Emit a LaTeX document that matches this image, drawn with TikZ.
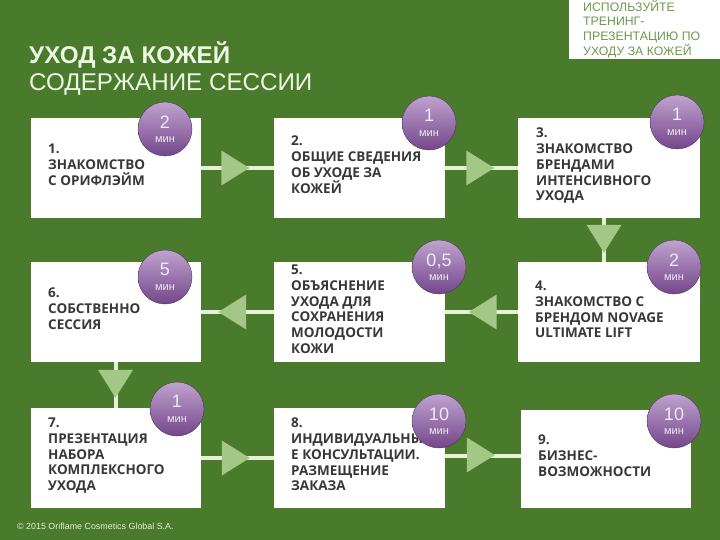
\documentclass[tikz,border=0pt]{standalone}
\usepackage{fontspec}
\setmainfont{Liberation Sans}
\newfontfamily\boxfont{Open Sans}
\usetikzlibrary{shapes.geometric}
\definecolor{slidegreen}{HTML}{4A7A2C}
\definecolor{linkgreen}{HTML}{E6F0D6}
\definecolor{trigreen}{HTML}{A3C785}
\definecolor{notegreen}{HTML}{6A9A4A}
\definecolor{titlegreen}{HTML}{EEF7E4}
\definecolor{inkgray}{HTML}{38383A}
\definecolor{lilactop}{HTML}{BFA3CF}
\definecolor{lilacbot}{HTML}{74468A}
\definecolor{lilactext}{HTML}{F0E8F4}
\tikzset{
  stepbox/.style={fill=white, minimum height=100, inner sep=0},
  steptext/.style={anchor=north west, inner sep=0, align=left, text=inkgray,
    font=\boxfont\bfseries\fontsize{13.5}{15.7}\selectfont},
  timer/.style={circle, minimum size=54, inner sep=0, top color=lilactop, bottom color=lilacbot,
    draw=lilacbot!70!black, line width=0.4, text=lilactext, align=center},
  link/.style={draw=linkgreen, line width=4},
  triright/.style={isosceles triangle, isosceles triangle apex angle=65, isosceles triangle stretches,
    fill=trigreen, minimum width=35, minimum height=28, inner sep=0},
  trileft/.style={triright, shape border rotate=180},
  tridown/.style={triright, shape border rotate=270}
}
\newcommand{\mins}[1]{{\fontsize{18}{18}\selectfont #1}\\[2.5pt]{\fontsize{11}{11}\selectfont мин}}
\begin{document}
\begin{tikzpicture}[x=1pt,y=-1pt]
\useasboundingbox (0,0) rectangle (720,540);
\fill[slidegreen] (0,0) rectangle (720,540);

\node[stepbox, minimum width=170] (box1) at (116,168) {};
\node[stepbox, minimum width=171] (box2) at (359.5,168) {};
\node[stepbox, minimum width=182] (box3) at (609,168) {};
\node[stepbox, minimum width=182] (box4) at (609,312) {};
\node[stepbox, minimum width=171] (box5) at (359.5,312) {};
\node[stepbox, minimum width=170] (box6) at (116,312) {};
\node[stepbox, minimum width=170] (box7) at (116,458) {};
\node[stepbox, minimum width=171] (box8) at (359.5,458) {};
\node[stepbox, minimum width=170, minimum height=98] (box9) at (606,459) {};
\node[fill=white, minimum width=151, minimum height=59, inner sep=0] (note) at (644.5,29.5) {};
\coordinate (drop34) at (604,240);
\coordinate (level89) at (480,456);

\draw[link] (box1) -- (box2);
\draw[link] (box2) -- (box3);
\draw[link] (drop34 |- box3.south) -- (drop34 |- box4.north);
\draw[link] (box4) -- (box5);
\draw[link] (box5) -- (box6);
\draw[link] (box6) -- (box7);
\draw[link] (box7) -- (box8);
\draw[link] (level89 -| box8.east) -- (level89 -| box9.west);

\node[triright] (tri12) at (231,168) {};
\node[triright] (tri23) at (476,168) {};
\node[tridown] (tri34) at (604,234.5) {};
\node[trileft] (tri45) at (487,312) {};
\node[trileft] (tri56) at (236.5,312) {};
\node[tridown] (tri67) at (115.5,379.5) {};
\node[triright] (tri78) at (231.5,458) {};
\node[triright] (tri89) at (476.5,455) {};

\node[steptext] (text1) at (48,144) {1.\\ЗНАКОМСТВО\\С ОРИФЛЭЙМ};
\node[steptext] (text2) at (291,136) {2.\\ОБЩИЕ СВЕДЕНИЯ\\ОБ УХОДЕ ЗА\\КОЖЕЙ};
\node[steptext] (text3) at (536,128) {3.\\ЗНАКОМСТВО\\БРЕНДАМИ\\ИНТЕНСИВНОГО\\УХОДА};
\node[steptext] (text4) at (535,281) {4.\\ЗНАКОМСТВО С\\БРЕНДОМ NOVAGE\\ULTIMATE LIFT};
\node[steptext] (text5) at (291,265) {5.\\ОБЪЯСНЕНИЕ\\УХОДА ДЛЯ\\СОХРАНЕНИЯ\\МОЛОДОСТИ\\КОЖИ};
\node[steptext] (text6) at (48,288) {6.\\СОБСТВЕННО\\СЕССИЯ};
\node[steptext] (text7) at (48,418) {7.\\ПРЕЗЕНТАЦИЯ\\НАБОРА\\КОМПЛЕКСНОГО\\УХОДА};
\node[steptext] (text8) at (291,418) {8.\\ИНДИВИДУАЛЬНЫ\\Е КОНСУЛЬТАЦИИ.\\РАЗМЕЩЕНИЕ\\ЗАКАЗА};
\node[steptext] (text9) at (538,435) {9.\\БИЗНЕС-\\ВОЗМОЖНОСТИ};

\node[timer] (time1) at (165,129) {\mins{2}};
\node[timer] (time2) at (429,123) {\mins{1}};
\node[timer] (time3) at (677,122) {\mins{1}};
\node[timer] (time4) at (674,267) {\mins{2}};
\node[timer] (time5) at (439,267) {\mins{0,5}};
\node[timer] (time6) at (165,277) {\mins{5}};
\node[timer] (time7) at (177,409) {\mins{1}};
\node[timer] (time8) at (439,421) {\mins{10}};
\node[timer] (time9) at (674,421) {\mins{10}};

\node[anchor=north west, inner sep=0, text=titlegreen, font=\bfseries\fontsize{24.2}{27}\selectfont] (title) at (29,41) {УХОД ЗА КОЖЕЙ};
\node[anchor=north west, inner sep=0, text=titlegreen, font=\fontsize{24.2}{27}\selectfont] (subtitle) at (29,73) {СОДЕРЖАНИЕ СЕССИИ};
\node[anchor=north west, inner sep=0, align=left, text=notegreen, font=\fontsize{12.3}{14.6}\selectfont] (notetext) at (583,0) {ИСПОЛЬЗУЙТЕ\\ТРЕНИНГ-\\ПРЕЗЕНТАЦИЮ ПО\\УХОДУ ЗА КОЖЕЙ};
\node[anchor=west, inner sep=0, text=linkgreen, font=\fontsize{8.9}{11}\selectfont] (copyright) at (17,526) {© 2015 Oriflame Cosmetics Global S.A.};
\end{tikzpicture}
\end{document}
